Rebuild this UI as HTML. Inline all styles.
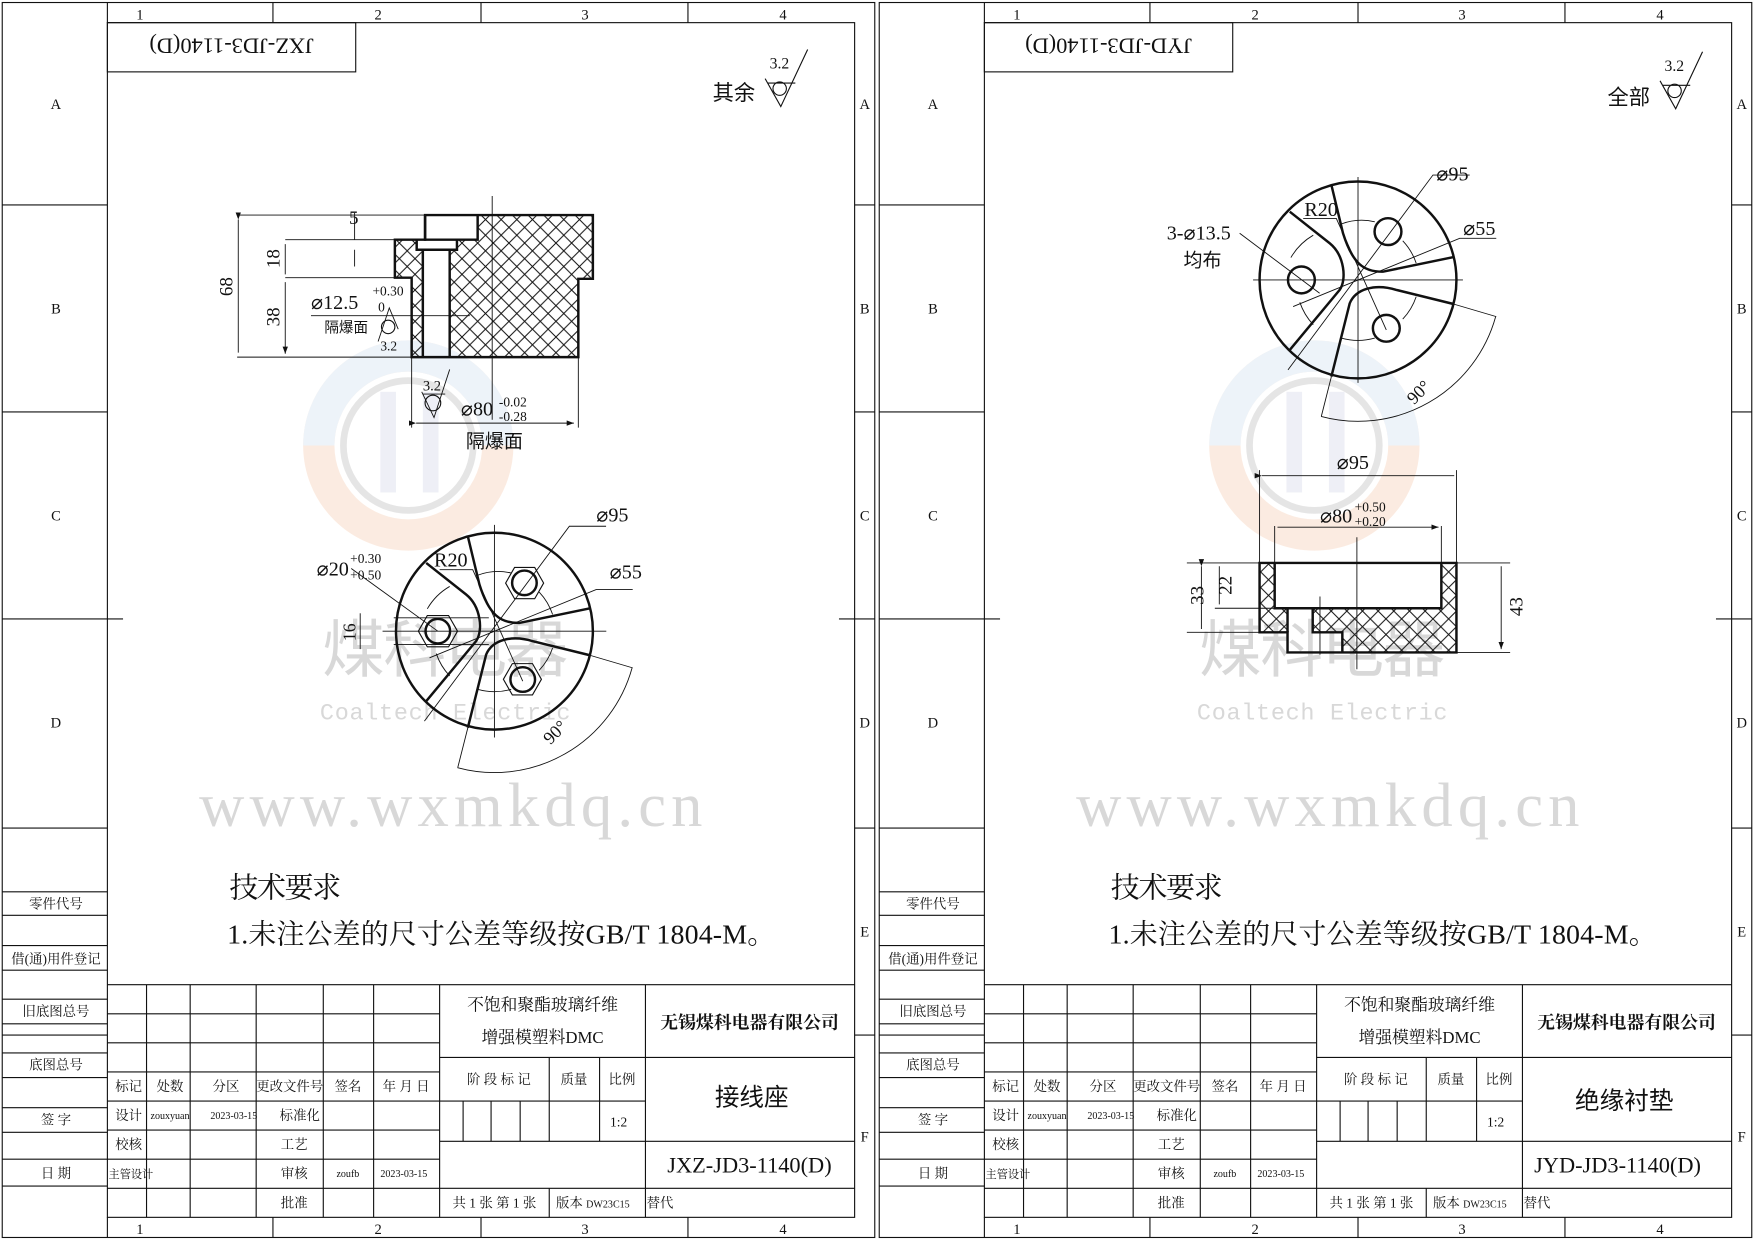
<!DOCTYPE html>
<html><head><meta charset="utf-8"><style>
html,body{margin:0;padding:0;background:#fff}
svg{display:block}
text{font-family:"Liberation Serif","Noto Serif CJK SC","Noto Sans CJK SC",serif;fill:#111}
.cj{font-family:"Liberation Sans","Noto Sans CJK SC",sans-serif}
.sr{font-family:"Liberation Serif","Noto Serif CJK SC",serif}
.t{stroke:#111;fill:none;stroke-width:1}
.k{stroke:#111;fill:none;stroke-width:2.2}
.th{stroke:#111;fill:none;stroke-width:0.8}
</style></head><body>
<svg width="1754" height="1240" viewBox="0 0 1568 1108" xmlns="http://www.w3.org/2000/svg">
<defs>
<pattern id="h" patternUnits="userSpaceOnUse" width="14" height="14">
<path d="M0 0L14 14M14 0L0 14" stroke="#111" stroke-width="0.9"/>
</pattern>
<marker id="a" markerWidth="8" markerHeight="6" refX="8" refY="3" orient="auto"><path d="M0 0L8 3L0 6z" fill="#111"/></marker>
</defs>
<rect width="1568" height="1108" fill="#fff"/>

<!-- ===== watermarks ===== -->
<g opacity="0.25">
<circle cx="365" cy="398" r="80" fill="none" stroke="#f3b48a" stroke-width="28"/>
<path d="M285 398a80 80 0 0 1 160 0" fill="none" stroke="#bcd3ea" stroke-width="28"/>
<circle cx="365" cy="398" r="58" fill="none" stroke="#999" stroke-width="6"/>
<rect x="340" y="350" width="14" height="90" fill="#bfc3dd"/><rect x="378" y="350" width="14" height="90" fill="#bfc3dd"/>
<circle cx="1175" cy="398" r="80" fill="none" stroke="#f3b48a" stroke-width="28"/>
<path d="M1095 398a80 80 0 0 1 160 0" fill="none" stroke="#bcd3ea" stroke-width="28"/>
<circle cx="1175" cy="398" r="58" fill="none" stroke="#999" stroke-width="6"/>
<rect x="1150" y="350" width="14" height="90" fill="#bfc3dd"/><rect x="1188" y="350" width="14" height="90" fill="#bfc3dd"/>
</g>
<g>
<text x="288" y="600" class="cj" font-size="56" textLength="220" style="fill:#d8d8d8">煤科电器</text>
<text x="286" y="643" font-size="21" textLength="224" style="fill:#d8d8d8;font-family:'Liberation Mono',monospace">Coaltech Electric</text>
<text x="178" y="738" font-size="56" textLength="450" style="fill:#d8d8d8">www.wxmkdq.cn</text>
<text x="1072" y="600" class="cj" font-size="56" textLength="220" style="fill:#d8d8d8">煤科电器</text>
<text x="1070" y="643" font-size="21" textLength="224" style="fill:#d8d8d8;font-family:'Liberation Mono',monospace">Coaltech Electric</text>
<text x="962" y="738" font-size="56" textLength="450" style="fill:#d8d8d8">www.wxmkdq.cn</text>
</g>

<!-- ===== LEFT SHEET FRAME ===== -->
<g>
<rect x="2" y="2" width="780" height="1104" class="t"/>
<rect x="96" y="20" width="668" height="1068" class="t" stroke-width="1.4"/>
<path class="t" d="M96 2V20M244 2V20M430 2V20M615 2V20M244 1088V1106M430 1088V1106M615 1088V1106M96 1088V1106
M2 183H96M2 368H96M2 553H110M2 740H96M2 925H96M764 183H782M764 368H782M750 553H782M764 740H782M764 925H782"/>
<text x="125" y="17" font-size="13" text-anchor="middle">1</text><text x="338" y="17" font-size="13" text-anchor="middle">2</text>
<text x="523" y="17" font-size="13" text-anchor="middle">3</text><text x="700" y="17" font-size="13" text-anchor="middle">4</text>
<text x="125" y="1103" font-size="13" text-anchor="middle">1</text><text x="338" y="1103" font-size="13" text-anchor="middle">2</text>
<text x="523" y="1103" font-size="13" text-anchor="middle">3</text><text x="700" y="1103" font-size="13" text-anchor="middle">4</text>
<g font-size="13" text-anchor="middle">
<text x="50" y="97">A</text><text x="50" y="280">B</text><text x="50" y="465">C</text><text x="50" y="650">D</text>
<text x="773" y="97">A</text><text x="773" y="280">B</text><text x="773" y="465">C</text><text x="773" y="650">D</text><text x="773" y="837">E</text><text x="773" y="1020">F</text>
</g>
<path class="t" d="M2 797H96M2 818H96M2 845H96M2 867H96M2 893H96M2 915H96M2 941H96M2 963H96M2 990H96M2 1012H96M2 1036H96M2 1060H96"/>
<g class="cj" font-size="12" text-anchor="middle">
<text x="50" y="812">零件代号</text><text x="50" y="861">借(通)用件登记</text><text x="50" y="908">旧底图总号</text>
<text x="50" y="956">底图总号</text><text x="50" y="1005">签 字</text><text x="50" y="1053">日 期</text>
</g>
<rect x="96" y="20" width="222" height="44" class="t"/>
<text transform="translate(207,34) rotate(180)" font-size="20" text-anchor="middle">JXZ-JD3-1140(D)</text>
<path class="t" d="M96 880H764M96 906H393M96 932H393M96 958H393M96 984H393M96 1010H393M96 1036H393M96 1062H393
M131 880V1088M170 880V1088M229 880V1088M289 880V1088M334 880V1088M393 880V1088
M393 945H764M393 984H577M393 1020H764M393 1062H764M491 945V1020M536 945V1020M414 984V1020M439 984V1020M465 984V1020
M577 880V1088M491 1062V1088M577 1062V1088"/>
<g class="cj" font-size="12" text-anchor="middle">
<text x="115" y="975">标记</text><text x="152" y="975">处数</text><text x="202" y="975">分区</text><text x="259" y="975">更改文件号</text><text x="311" y="975">签名</text><text x="363" y="975">年 月 日</text>
<text x="115" y="1001">设计</text><text x="152" y="1000" font-size="9">zouxyuan</text><text x="209" y="1000" font-size="9">2023-03-15</text><text x="268" y="1001">标准化</text>
<text x="115" y="1027">校核</text><text x="263" y="1027">工艺</text>
<text x="117" y="1053" font-size="10">主管设计</text><text x="263" y="1053">审核</text><text x="311" y="1052" font-size="9">zoufb</text><text x="361" y="1052" font-size="9">2023-03-15</text>
<text x="263" y="1079">批准</text>
<text x="485" y="903" font-size="15">不饱和聚酯玻璃纤维</text><text x="485" y="932" font-size="15">增强模塑料DMC</text>
<text x="446" y="969">阶 段 标 记</text><text x="513" y="969">质量</text><text x="556" y="969">比例</text>
<text x="553" y="1007">1:2</text>
<text x="442" y="1079">共 1 张  第 1 张</text><text x="530" y="1079">版本 <tspan font-size="9">DW23C15</tspan></text><text x="590" y="1079">替代</text>
<text x="670" y="919" font-size="16" font-weight="bold">无锡煤科电器有限公司</text>
</g>
<text x="672" y="988" class="cj" font-size="22" text-anchor="middle">接线座</text>
<text x="670" y="1048" font-size="20" text-anchor="middle">JXZ-JD3-1140(D)</text>
<text x="205" y="802" class="sr" font-size="26" textLength="100">技术要求</text>
<text x="203" y="843" class="sr" font-size="25" textLength="490">1.未注公差的尺寸公差等级按GB/T 1804-M。</text>
<text x="637" y="89" class="cj" font-size="19">其余</text>
<path class="t" d="M684 70L698 95L722 44M686 74H711"/><circle cx="697" cy="79" r="6" class="t"/>
<text x="688" y="61" font-size="14">3.2</text>
</g>

<!-- ===== LEFT DRAWING: section ===== -->
<g>
<path d="M380 192H530V249H517V319H402V223H408V214H427V192Z" fill="url(#h)"/>
<path d="M353 214H372V223H378V319H368V248H353Z" fill="url(#h)"/>
<path class="k" d="M380 192H530V249H517V319H368V248H353V214H380Z"/>
<path class="k" d="M380 192V214H427V192M372.5 214V223H408.5V214M378 223V319M402 223V319"/>
<path class="th" d="M440 175V375M212 192H380M255 214H353M212 319H368M255 248H353M368 319V382M517 319V382"/>
<path class="th" d="M213 196V315M255 218V245M255 252V316" marker-start="url(#a)" marker-end="url(#a)"/>
<path class="th" d="M372 378H513" marker-start="url(#a)" marker-end="url(#a)"/>
<path class="th" d="M317 190V214M317 223V238M278 282H420" />
<text transform="translate(208,256) rotate(-90)" font-size="17" text-anchor="middle">68</text>
<text transform="translate(250,231) rotate(-90)" font-size="17" text-anchor="middle">18</text>
<text transform="translate(250,283) rotate(-90)" font-size="17" text-anchor="middle">38</text>
<text x="312" y="200" font-size="17">5</text>
<text x="278" y="276" font-size="18">⌀12.5</text><text x="333" y="264" font-size="12">+0.30</text><text x="338" y="278" font-size="12">0</text>
<text x="290" y="297" class="cj" font-size="13">隔爆面</text>
<circle cx="347" cy="292" r="6" class="t"/><path class="th" d="M338 305L348 275L356 294"/><text x="340" y="313" font-size="12">3.2</text>
<circle cx="387" cy="360" r="7" class="t"/><path class="th" d="M377 350L388 373L402 330M378 352H398"/><text x="378" y="349" font-size="13">3.2</text>
<text x="412" y="371" font-size="18">⌀80</text><text x="446" y="363" font-size="12">-0.02</text><text x="446" y="376" font-size="12">-0.28</text>
<text x="442" y="400" class="cj" font-size="17" text-anchor="middle">隔爆面</text>
</g>

<!-- ===== LEFT DRAWING: top view ===== -->
<g transform="translate(442,564)">
<circle r="88" class="k"/>
<path class="k" d="M-23.8 -84.9L-13.4 -41.7C-5 -15 5 -7 22.3 -7.4L84.9 -20.3M-61 -61L-25.3 -32.8C-12 -22 -10 0 -16.4 8.9L-61 62.6M84.9 21.4L34.3 8.9C15 3 -2 8 -7.4 20.9L-23.8 86.4"/>
<circle cx="26.8" cy="-43.2" r="11" class="k"/><path class="t" d="M44 -43L36 -29L18 -29L10 -43L18 -57L36 -57Z"/>
<circle cx="-50.6" cy="0" r="11" class="k"/><path class="t" d="M-33 0L-41 14L-60 14L-68 0L-60 -14L-41 -14Z"/>
<circle cx="25.3" cy="43.2" r="11" class="k"/><path class="t" d="M42 43L34 57L16 57L8 43L16 29L34 29Z"/>
<path class="th" d="M-100 0H100M0 -95V95M-62.6 80.4L67 -93.8H99.8M-58 23.8L90.9 -37.2H123.6M-49 -55H-19.4L25.3 44.7M84.9 21.4L123.6 32.8M-23.8 86.4L-32.8 122M123 33A127 127 0 0 1 -33 122"/>
<path class="th" d="M-60 -20A55 55 0 0 1 -40 -40M-15 -50A52 52 0 0 1 15 -52M40 -35A55 55 0 0 1 52 -15M52 15A55 55 0 0 1 40 35M15 52A55 55 0 0 1 -15 52M-40 40A55 55 0 0 1 -52 20"/>
<path class="th" d="M-128 -56L-50.6 0M-90 -12H-5M-90 12H-5"/>
<text x="91" y="-98" font-size="18">⌀95</text><text x="103" y="-47" font-size="18">⌀55</text>
<text x="-54" y="-58" font-size="18">R20</text>
<text x="-159" y="-50" font-size="18">⌀20</text><text x="-129" y="-61" font-size="12">+0.30</text><text x="-129" y="-46" font-size="12">+0.50</text>
<text transform="translate(-124,1) rotate(-90)" font-size="16" text-anchor="middle">16</text>
<path class="th" d="M-120 -16V16"/>
<text transform="translate(50,102) rotate(-45)" font-size="16">90°</text>
</g>

<!-- ===== RIGHT SHEET FRAME ===== -->
<g transform="translate(784,0)">
<rect x="2" y="2" width="780" height="1104" class="t"/>
<rect x="96" y="20" width="668" height="1068" class="t" stroke-width="1.4"/>
<path class="t" d="M96 2V20M244 2V20M430 2V20M615 2V20M244 1088V1106M430 1088V1106M615 1088V1106M96 1088V1106
M2 183H96M2 368H96M2 553H110M2 740H96M2 925H96M764 183H782M764 368H782M750 553H782M764 740H782M764 925H782"/>
<text x="125" y="17" font-size="13" text-anchor="middle">1</text><text x="338" y="17" font-size="13" text-anchor="middle">2</text>
<text x="523" y="17" font-size="13" text-anchor="middle">3</text><text x="700" y="17" font-size="13" text-anchor="middle">4</text>
<text x="125" y="1103" font-size="13" text-anchor="middle">1</text><text x="338" y="1103" font-size="13" text-anchor="middle">2</text>
<text x="523" y="1103" font-size="13" text-anchor="middle">3</text><text x="700" y="1103" font-size="13" text-anchor="middle">4</text>
<g font-size="13" text-anchor="middle">
<text x="50" y="97">A</text><text x="50" y="280">B</text><text x="50" y="465">C</text><text x="50" y="650">D</text>
<text x="773" y="97">A</text><text x="773" y="280">B</text><text x="773" y="465">C</text><text x="773" y="650">D</text><text x="773" y="837">E</text><text x="773" y="1020">F</text>
</g>
<path class="t" d="M2 797H96M2 818H96M2 845H96M2 867H96M2 893H96M2 915H96M2 941H96M2 963H96M2 990H96M2 1012H96M2 1036H96M2 1060H96"/>
<g class="cj" font-size="12" text-anchor="middle">
<text x="50" y="812">零件代号</text><text x="50" y="861">借(通)用件登记</text><text x="50" y="908">旧底图总号</text>
<text x="50" y="956">底图总号</text><text x="50" y="1005">签 字</text><text x="50" y="1053">日 期</text>
</g>
<rect x="96" y="20" width="222" height="44" class="t"/>
<text transform="translate(207,34) rotate(180)" font-size="20" text-anchor="middle">JYD-JD3-1140(D)</text>
<path class="t" d="M96 880H764M96 906H393M96 932H393M96 958H393M96 984H393M96 1010H393M96 1036H393M96 1062H393
M131 880V1088M170 880V1088M229 880V1088M289 880V1088M334 880V1088M393 880V1088
M393 945H764M393 984H577M393 1020H764M393 1062H764M491 945V1020M536 945V1020M414 984V1020M439 984V1020M465 984V1020
M577 880V1088M491 1062V1088M577 1062V1088"/>
<g class="cj" font-size="12" text-anchor="middle">
<text x="115" y="975">标记</text><text x="152" y="975">处数</text><text x="202" y="975">分区</text><text x="259" y="975">更改文件号</text><text x="311" y="975">签名</text><text x="363" y="975">年 月 日</text>
<text x="115" y="1001">设计</text><text x="152" y="1000" font-size="9">zouxyuan</text><text x="209" y="1000" font-size="9">2023-03-15</text><text x="268" y="1001">标准化</text>
<text x="115" y="1027">校核</text><text x="263" y="1027">工艺</text>
<text x="117" y="1053" font-size="10">主管设计</text><text x="263" y="1053">审核</text><text x="311" y="1052" font-size="9">zoufb</text><text x="361" y="1052" font-size="9">2023-03-15</text>
<text x="263" y="1079">批准</text>
<text x="485" y="903" font-size="15">不饱和聚酯玻璃纤维</text><text x="485" y="932" font-size="15">增强模塑料DMC</text>
<text x="446" y="969">阶 段 标 记</text><text x="513" y="969">质量</text><text x="556" y="969">比例</text>
<text x="553" y="1007">1:2</text>
<text x="442" y="1079">共 1 张  第 1 张</text><text x="530" y="1079">版本 <tspan font-size="9">DW23C15</tspan></text><text x="590" y="1079">替代</text>
<text x="670" y="919" font-size="16" font-weight="bold">无锡煤科电器有限公司</text>
</g>
<text x="668" y="991" class="cj" font-size="22" text-anchor="middle">绝缘衬垫</text>
<text x="662" y="1048" font-size="20" text-anchor="middle">JYD-JD3-1140(D)</text>
<text x="209" y="802" class="sr" font-size="26" textLength="100">技术要求</text>
<text x="207" y="843" class="sr" font-size="25" textLength="490">1.未注公差的尺寸公差等级按GB/T 1804-M。</text>
<text x="653" y="93" class="cj" font-size="19">全部</text>
<path class="t" d="M700 72L714 97L738 46M702 76H727"/><circle cx="713" cy="81" r="6" class="t"/>
<text x="704" y="63" font-size="14">3.2</text>
</g>

<!-- ===== RIGHT DRAWING: top view ===== -->
<g transform="translate(1214,250)">
<circle r="88" class="k"/>
<path class="k" d="M-23.8 -84.9L-13.4 -41.7C-5 -15 5 -7 22.3 -7.4L84.9 -20.3M-61 -61L-25.3 -32.8C-12 -22 -10 0 -16.4 8.9L-61 62.6M84.9 21.4L34.3 8.9C15 3 -2 8 -7.4 20.9L-23.8 86.4"/>
<circle cx="26.8" cy="-43.2" r="12" class="k"/>
<circle cx="-50.6" cy="0" r="12" class="k"/>
<circle cx="25.3" cy="43.2" r="12" class="k"/>
<path class="th" d="M-93.8 0H93.8M0 -92V92M-62.6 80.4L67 -93.8H99.8M-58 23.8L90.9 -37.2H123.6M-49 -55H-19.4L25.3 44.7M84.9 21.4L123.6 32.8M-23.8 86.4L-32.8 122M123 33A127 127 0 0 1 -33 122M-105.8 -41.7L-34.3 11.9"/>
<path class="th" d="M-60 -20A55 55 0 0 1 -40 -40M-15 -50A52 52 0 0 1 15 -52M40 -35A55 55 0 0 1 52 -15M52 15A55 55 0 0 1 40 35M15 52A55 55 0 0 1 -15 52M-40 40A55 55 0 0 1 -52 20"/>
<text x="70" y="-89" font-size="18">⌀95</text><text x="94" y="-40" font-size="18">⌀55</text>
<text x="-48" y="-57" font-size="18">R20</text>
<text x="-171" y="-36" font-size="18">3-⌀13.5</text><text x="-156" y="-12" class="cj" font-size="17">均布</text>
<text transform="translate(50,112) rotate(-45)" font-size="16">90°</text>
</g>

<!-- ===== RIGHT DRAWING: section ===== -->
<g>
<path d="M1126 503H1139.5V543.5H1151V565H1126Z" fill="url(#h)"/>
<path d="M1288.5 503H1302V583H1200V565H1173.5V543.5H1288.5Z" fill="url(#h)"/>
<path class="k" d="M1126 503H1302V583H1151V565H1126Z"/>
<path class="k" d="M1139.5 503V543.5H1288.5V503M1151 543.5V565M1173.5 543.5V565H1200V583"/>
<path class="th" d="M1213 480V598M1180 533V585M1126 420V503M1302 420V503M1139.5 470V503M1288.5 470V503M1061 503H1126M1061 565H1126M1086 543.5H1139.5M1302 583H1350M1302 503H1350"/>
<path class="th" d="M1128 425H1300M1142 471H1286" marker-start="url(#a)" marker-end="url(#a)"/>
<path class="th" d="M1074 506V562M1090 506V540M1342 506V580" marker-start="url(#a)" marker-end="url(#a)"/>
<text x="1195" y="419" font-size="18">⌀95</text>
<text x="1180" y="467" font-size="18">⌀80</text><text x="1211" y="457" font-size="12">+0.50</text><text x="1211" y="470" font-size="12">+0.20</text>
<text transform="translate(1076,532) rotate(-90)" font-size="17" text-anchor="middle">33</text>
<text transform="translate(1101,523) rotate(-90)" font-size="17" text-anchor="middle">22</text>
<text transform="translate(1361,542) rotate(-90)" font-size="17" text-anchor="middle">43</text>
</g>
</svg>
</body></html>
